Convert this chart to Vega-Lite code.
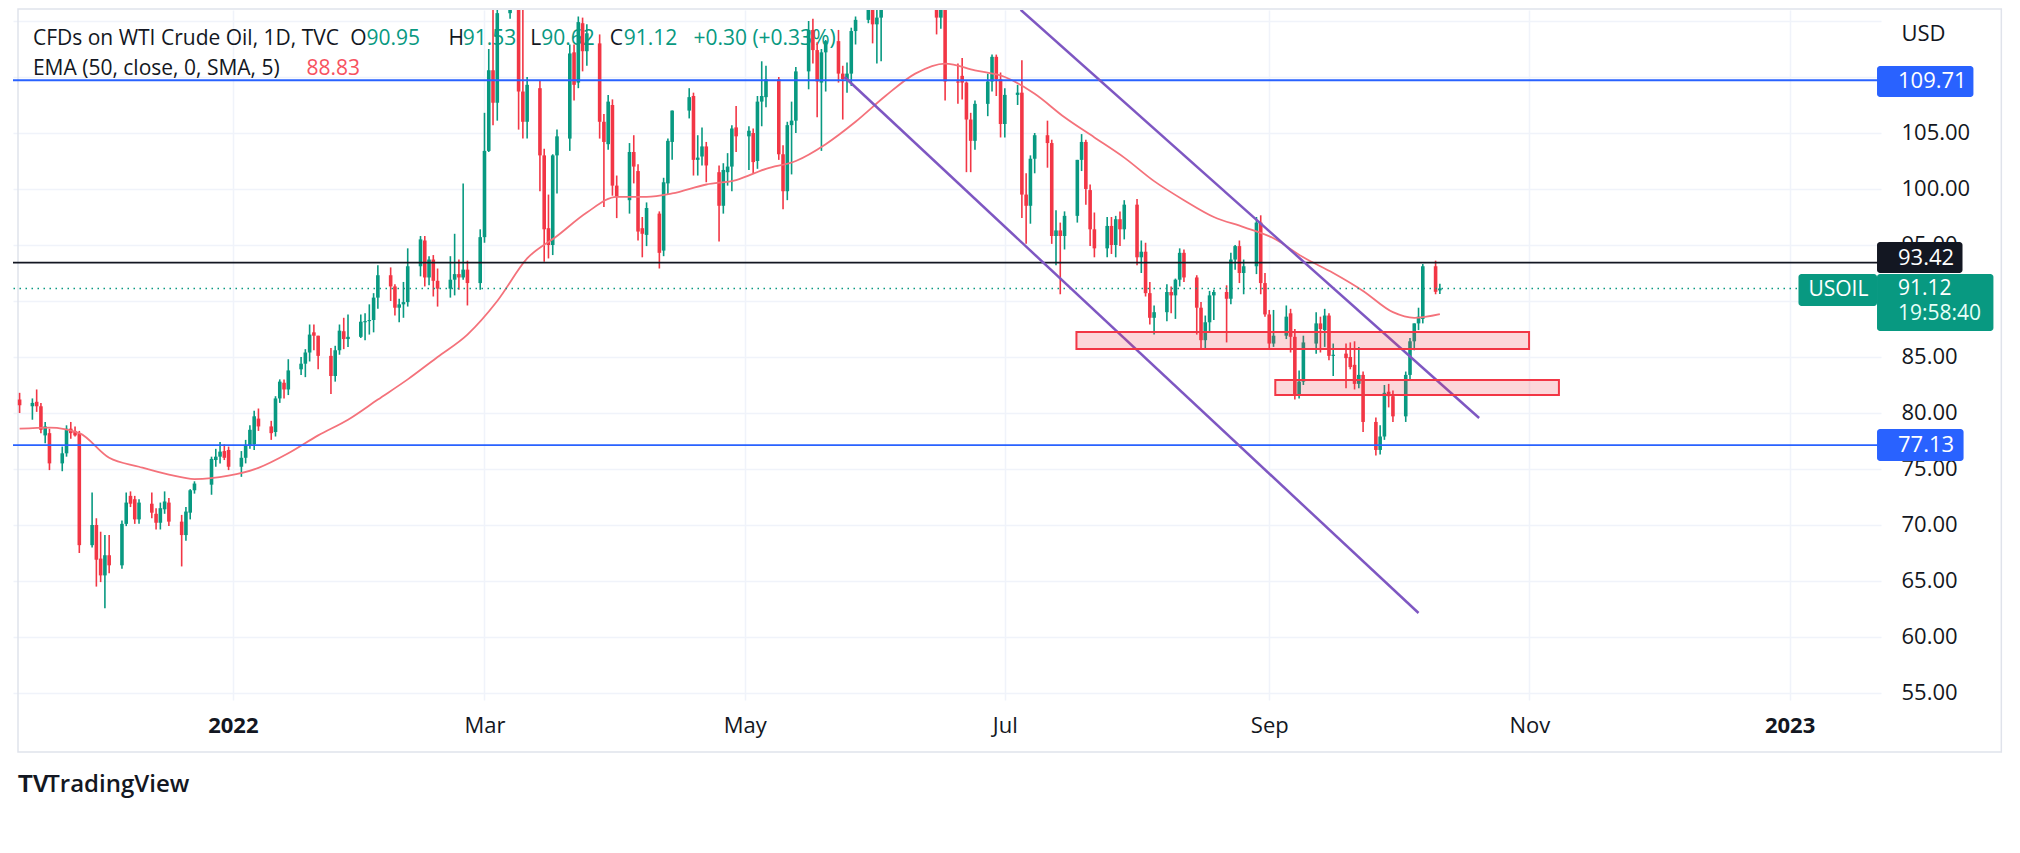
{
"$schema": "https://vega.github.io/schema/vega-lite/v6.json",
"width": 1868,
"height": 690,
"autosize": {"type": "none"},
"padding": {"left": 13, "top": 10, "right": 139, "bottom": 153},
"background": "#ffffff",
"config": {"font": "Open Sans", "view": {"stroke": null}},
"data": {"values": [{}]},
"datasets": {
"ohlc": [
{"d":"2021-11-12","o":81.2,"h":81.8,"l":80.0,"c":80.7},
{"d":"2021-11-15","o":80.6,"h":81.3,"l":79.4,"c":80.9},
{"d":"2021-11-16","o":81.0,"h":82.1,"l":80.1,"c":80.6},
{"d":"2021-11-17","o":80.6,"h":80.9,"l":78.2,"c":78.5},
{"d":"2021-11-18","o":78.0,"h":79.2,"l":77.3,"c":78.8},
{"d":"2021-11-19","o":78.2,"h":78.6,"l":74.9,"c":75.5},
{"d":"2021-11-22","o":75.5,"h":77.0,"l":74.8,"c":76.4},
{"d":"2021-11-23","o":76.4,"h":78.9,"l":76.1,"c":78.6},
{"d":"2021-11-24","o":78.6,"h":79.2,"l":77.7,"c":78.2},
{"d":"2021-11-25","o":78.4,"h":78.8,"l":77.9,"c":78.0},
{"d":"2021-11-26","o":78.2,"h":78.4,"l":67.5,"c":68.2},
{"d":"2021-11-29","o":68.2,"h":72.9,"l":68.0,"c":70.0},
{"d":"2021-11-30","o":70.0,"h":70.6,"l":64.5,"c":66.9},
{"d":"2021-12-01","o":67.0,"h":69.4,"l":64.9,"c":65.5},
{"d":"2021-12-02","o":65.5,"h":69.1,"l":62.56,"c":67.3},
{"d":"2021-12-03","o":67.3,"h":69.1,"l":65.7,"c":66.4},
{"d":"2021-12-06","o":66.4,"h":70.4,"l":66.1,"c":70.1},
{"d":"2021-12-07","o":70.1,"h":72.9,"l":69.9,"c":72.0},
{"d":"2021-12-08","o":72.6,"h":73.0,"l":71.6,"c":71.9},
{"d":"2021-12-09","o":72.3,"h":72.6,"l":70.1,"c":70.5},
{"d":"2021-12-10","o":70.5,"h":72.3,"l":70.1,"c":72.0},
{"d":"2021-12-13","o":71.9,"h":72.9,"l":70.6,"c":71.1},
{"d":"2021-12-14","o":71.0,"h":71.5,"l":69.6,"c":70.2},
{"d":"2021-12-15","o":70.2,"h":72.0,"l":69.6,"c":71.5},
{"d":"2021-12-16","o":71.4,"h":73.0,"l":71.0,"c":72.1},
{"d":"2021-12-17","o":72.0,"h":72.4,"l":69.9,"c":70.3},
{"d":"2021-12-20","o":70.3,"h":70.9,"l":66.3,"c":69.1},
{"d":"2021-12-21","o":69.1,"h":71.6,"l":68.6,"c":71.2},
{"d":"2021-12-22","o":71.1,"h":73.2,"l":70.5,"c":73.1},
{"d":"2021-12-23","o":73.1,"h":73.9,"l":72.8,"c":73.7},
{"d":"2021-12-27","o":73.6,"h":76.1,"l":72.7,"c":75.9},
{"d":"2021-12-28","o":75.8,"h":76.8,"l":75.2,"c":76.1},
{"d":"2021-12-29","o":76.1,"h":77.4,"l":75.5,"c":76.55},
{"d":"2021-12-30","o":76.6,"h":77.2,"l":75.8,"c":76.0},
{"d":"2021-12-31","o":76.7,"h":77.0,"l":74.9,"c":75.2},
{"d":"2022-01-03","o":75.2,"h":76.6,"l":74.3,"c":76.0},
{"d":"2022-01-04","o":76.0,"h":77.6,"l":75.5,"c":77.1},
{"d":"2022-01-05","o":77.1,"h":78.9,"l":76.8,"c":78.5},
{"d":"2022-01-06","o":77.2,"h":80.2,"l":76.7,"c":79.7},
{"d":"2022-01-07","o":79.5,"h":80.4,"l":78.4,"c":78.8},
{"d":"2022-01-10","o":78.8,"h":79.3,"l":77.6,"c":78.2},
{"d":"2022-01-11","o":78.3,"h":81.5,"l":77.9,"c":81.3},
{"d":"2022-01-12","o":81.3,"h":83.0,"l":80.9,"c":82.8},
{"d":"2022-01-13","o":82.7,"h":83.0,"l":81.3,"c":82.1},
{"d":"2022-01-14","o":82.1,"h":84.8,"l":81.6,"c":83.8},
{"d":"2022-01-17","o":83.9,"h":85.0,"l":83.4,"c":84.4},
{"d":"2022-01-18","o":84.4,"h":85.7,"l":83.2,"c":85.4},
{"d":"2022-01-19","o":85.4,"h":87.9,"l":84.6,"c":87.0},
{"d":"2022-01-20","o":87.2,"h":87.9,"l":85.6,"c":86.9},
{"d":"2022-01-21","o":86.9,"h":86.9,"l":83.9,"c":85.1},
{"d":"2022-01-24","o":85.1,"h":85.8,"l":81.7,"c":83.3},
{"d":"2022-01-25","o":83.3,"h":86.0,"l":82.8,"c":85.6},
{"d":"2022-01-26","o":85.6,"h":87.9,"l":85.2,"c":87.35},
{"d":"2022-01-27","o":87.3,"h":88.5,"l":85.7,"c":86.6},
{"d":"2022-01-28","o":86.6,"h":88.8,"l":85.9,"c":86.8},
{"d":"2022-01-31","o":86.8,"h":88.8,"l":86.7,"c":88.15},
{"d":"2022-02-01","o":88.1,"h":88.9,"l":86.5,"c":88.2},
{"d":"2022-02-02","o":88.2,"h":89.7,"l":87.0,"c":88.3},
{"d":"2022-02-03","o":88.3,"h":90.7,"l":87.2,"c":90.3},
{"d":"2022-02-04","o":90.3,"h":93.2,"l":89.3,"c":92.3},
{"d":"2022-02-07","o":92.3,"h":93.0,"l":90.0,"c":91.3},
{"d":"2022-02-08","o":91.3,"h":91.5,"l":88.7,"c":89.4},
{"d":"2022-02-09","o":89.4,"h":90.2,"l":88.1,"c":89.7},
{"d":"2022-02-10","o":89.7,"h":91.7,"l":88.5,"c":89.9},
{"d":"2022-02-11","o":89.9,"h":94.7,"l":89.5,"c":93.1},
{"d":"2022-02-14","o":93.1,"h":95.8,"l":92.2,"c":95.5},
{"d":"2022-02-15","o":95.4,"h":95.8,"l":91.3,"c":92.1},
{"d":"2022-02-16","o":92.1,"h":94.0,"l":91.4,"c":93.7},
{"d":"2022-02-17","o":93.7,"h":94.1,"l":90.4,"c":91.8},
{"d":"2022-02-18","o":91.8,"h":92.9,"l":89.5,"c":91.1},
{"d":"2022-02-21","o":91.1,"h":94.0,"l":90.3,"c":91.9},
{"d":"2022-02-22","o":91.9,"h":96.0,"l":90.5,"c":92.4},
{"d":"2022-02-23","o":92.4,"h":93.7,"l":91.0,"c":92.1},
{"d":"2022-02-24","o":92.1,"h":100.5,"l":91.9,"c":92.8},
{"d":"2022-02-25","o":92.8,"h":93.6,"l":89.6,"c":91.6},
{"d":"2022-02-28","o":91.6,"h":96.4,"l":91.0,"c":95.7},
{"d":"2022-03-01","o":95.7,"h":106.8,"l":95.2,"c":103.4},
{"d":"2022-03-02","o":103.4,"h":112.5,"l":103.3,"c":110.6},
{"d":"2022-03-03","o":110.6,"h":116.6,"l":105.7,"c":107.7},
{"d":"2022-03-04","o":107.7,"h":116.0,"l":106.1,"c":115.7},
{"d":"2022-03-07","o":115.7,"h":130.5,"l":115.2,"c":119.4},
{"d":"2022-03-08","o":119.4,"h":129.4,"l":117.7,"c":123.7},
{"d":"2022-03-09","o":123.7,"h":124.0,"l":105.3,"c":108.7},
{"d":"2022-03-10","o":108.7,"h":116.5,"l":104.5,"c":106.0},
{"d":"2022-03-11","o":106.0,"h":110.0,"l":104.5,"c":109.3},
{"d":"2022-03-14","o":109.0,"h":109.7,"l":99.8,"c":103.0},
{"d":"2022-03-15","o":103.0,"h":103.6,"l":93.5,"c":96.4},
{"d":"2022-03-16","o":96.5,"h":99.5,"l":93.8,"c":95.0},
{"d":"2022-03-17","o":95.0,"h":103.1,"l":94.1,"c":103.0},
{"d":"2022-03-18","o":103.0,"h":105.3,"l":99.6,"c":104.7},
{"d":"2022-03-21","o":104.5,"h":112.9,"l":103.4,"c":112.1},
{"d":"2022-03-22","o":112.2,"h":112.9,"l":107.9,"c":109.3},
{"d":"2022-03-23","o":109.5,"h":115.4,"l":109.0,"c":114.9},
{"d":"2022-03-24","o":114.8,"h":115.3,"l":110.5,"c":112.3},
{"d":"2022-03-25","o":112.3,"h":114.7,"l":111.0,"c":113.9},
{"d":"2022-03-28","o":113.0,"h":113.8,"l":104.5,"c":106.0},
{"d":"2022-03-29","o":106.0,"h":106.7,"l":98.4,"c":104.2},
{"d":"2022-03-30","o":104.0,"h":108.4,"l":103.5,"c":107.8},
{"d":"2022-03-31","o":107.5,"h":108.0,"l":99.4,"c":100.3},
{"d":"2022-04-01","o":100.3,"h":101.2,"l":97.4,"c":99.3},
{"d":"2022-04-04","o":99.0,"h":104.1,"l":97.8,"c":103.3},
{"d":"2022-04-05","o":103.3,"h":104.8,"l":100.5,"c":102.0},
{"d":"2022-04-06","o":101.6,"h":102.2,"l":95.4,"c":96.2},
{"d":"2022-04-07","o":96.5,"h":97.5,"l":93.9,"c":96.0},
{"d":"2022-04-08","o":95.9,"h":98.8,"l":94.9,"c":98.3},
{"d":"2022-04-11","o":97.8,"h":98.0,"l":92.9,"c":94.3},
{"d":"2022-04-12","o":94.5,"h":101.0,"l":94.0,"c":100.6},
{"d":"2022-04-13","o":100.5,"h":104.5,"l":99.5,"c":104.3},
{"d":"2022-04-14","o":104.2,"h":107.0,"l":102.6,"c":107.0},
{"d":"2022-04-18","o":107.0,"h":109.0,"l":106.3,"c":108.2},
{"d":"2022-04-19","o":108.3,"h":108.6,"l":101.2,"c":102.6},
{"d":"2022-04-20","o":102.6,"h":104.8,"l":101.2,"c":102.8},
{"d":"2022-04-21","o":102.9,"h":105.5,"l":102.1,"c":103.8},
{"d":"2022-04-22","o":103.8,"h":104.2,"l":100.6,"c":102.1},
{"d":"2022-04-25","o":101.5,"h":102.1,"l":95.3,"c":98.5},
{"d":"2022-04-26","o":98.5,"h":102.3,"l":97.8,"c":101.7},
{"d":"2022-04-27","o":101.5,"h":103.2,"l":100.3,"c":102.0},
{"d":"2022-04-28","o":102.0,"h":105.7,"l":99.8,"c":105.4},
{"d":"2022-04-29","o":105.5,"h":107.4,"l":103.3,"c":104.7},
{"d":"2022-05-02","o":104.7,"h":105.6,"l":101.7,"c":105.2},
{"d":"2022-05-03","o":105.0,"h":105.4,"l":101.4,"c":102.4},
{"d":"2022-05-04","o":102.5,"h":108.3,"l":101.8,"c":107.8},
{"d":"2022-05-05","o":107.8,"h":111.4,"l":105.6,"c":108.3},
{"d":"2022-05-06","o":108.2,"h":111.0,"l":107.3,"c":109.8},
{"d":"2022-05-09","o":109.8,"h":110.0,"l":102.6,"c":103.1},
{"d":"2022-05-10","o":103.1,"h":103.9,"l":98.2,"c":99.8},
{"d":"2022-05-11","o":99.8,"h":106.0,"l":99.0,"c":105.7},
{"d":"2022-05-12","o":105.7,"h":107.8,"l":101.3,"c":106.1},
{"d":"2022-05-13","o":106.1,"h":110.9,"l":105.0,"c":110.5},
{"d":"2022-05-16","o":110.5,"h":115.0,"l":108.9,"c":114.2},
{"d":"2022-05-17","o":114.2,"h":115.2,"l":111.2,"c":112.4},
{"d":"2022-05-18","o":112.4,"h":113.1,"l":106.4,"c":109.6},
{"d":"2022-05-19","o":109.5,"h":112.5,"l":103.4,"c":112.2},
{"d":"2022-05-20","o":112.2,"h":113.3,"l":108.7,"c":113.2},
{"d":"2022-05-23","o":113.2,"h":114.2,"l":109.5,"c":110.3},
{"d":"2022-05-24","o":110.3,"h":111.0,"l":106.2,"c":109.8},
{"d":"2022-05-25","o":109.8,"h":111.3,"l":108.6,"c":110.3},
{"d":"2022-05-26","o":110.3,"h":114.4,"l":109.2,"c":114.1},
{"d":"2022-05-27","o":114.1,"h":115.4,"l":112.9,"c":115.1},
{"d":"2022-05-30","o":115.1,"h":118.0,"l":114.8,"c":117.0},
{"d":"2022-05-31","o":117.0,"h":119.98,"l":113.0,"c":114.7},
{"d":"2022-06-01","o":114.7,"h":117.1,"l":111.2,"c":115.3},
{"d":"2022-06-02","o":115.3,"h":117.1,"l":111.4,"c":116.9},
{"d":"2022-06-03","o":116.9,"h":120.0,"l":116.0,"c":118.9},
{"d":"2022-06-06","o":119.0,"h":120.0,"l":117.1,"c":118.5},
{"d":"2022-06-07","o":118.5,"h":120.0,"l":116.5,"c":119.4},
{"d":"2022-06-08","o":119.4,"h":123.2,"l":118.9,"c":122.1},
{"d":"2022-06-09","o":122.1,"h":123.2,"l":119.8,"c":121.5},
{"d":"2022-06-10","o":121.5,"h":121.9,"l":118.8,"c":120.7},
{"d":"2022-06-13","o":120.7,"h":122.3,"l":118.5,"c":120.9},
{"d":"2022-06-14","o":120.9,"h":123.7,"l":117.4,"c":118.9},
{"d":"2022-06-15","o":118.9,"h":119.7,"l":113.8,"c":115.3},
{"d":"2022-06-16","o":115.3,"h":118.5,"l":114.3,"c":117.6},
{"d":"2022-06-17","o":117.6,"h":118.2,"l":107.9,"c":109.6},
{"d":"2022-06-20","o":109.6,"h":111.2,"l":107.6,"c":109.5},
{"d":"2022-06-21","o":110.1,"h":111.7,"l":108.0,"c":109.5},
{"d":"2022-06-22","o":109.5,"h":109.6,"l":101.5,"c":106.2},
{"d":"2022-06-23","o":106.2,"h":106.8,"l":101.5,"c":104.3},
{"d":"2022-06-24","o":104.3,"h":107.9,"l":103.5,"c":107.6},
{"d":"2022-06-27","o":107.6,"h":110.3,"l":106.5,"c":109.6},
{"d":"2022-06-28","o":109.6,"h":112.0,"l":108.7,"c":111.8},
{"d":"2022-06-29","o":111.8,"h":112.0,"l":108.3,"c":109.8},
{"d":"2022-06-30","o":109.8,"h":110.4,"l":104.6,"c":105.8},
{"d":"2022-07-01","o":105.8,"h":109.0,"l":104.6,"c":108.4},
{"d":"2022-07-04","o":108.4,"h":109.3,"l":107.5,"c":108.6},
{"d":"2022-07-05","o":108.6,"h":111.5,"l":97.4,"c":99.5},
{"d":"2022-07-06","o":99.5,"h":101.4,"l":95.1,"c":98.5},
{"d":"2022-07-07","o":98.5,"h":103.0,"l":96.9,"c":102.7},
{"d":"2022-07-08","o":102.7,"h":105.0,"l":101.4,"c":104.8},
{"d":"2022-07-11","o":104.8,"h":106.1,"l":101.9,"c":104.1},
{"d":"2022-07-12","o":104.1,"h":104.4,"l":95.1,"c":95.8},
{"d":"2022-07-13","o":95.8,"h":98.1,"l":93.2,"c":96.3},
{"d":"2022-07-14","o":96.3,"h":97.0,"l":90.6,"c":95.8},
{"d":"2022-07-15","o":95.8,"h":98.0,"l":94.6,"c":97.6},
{"d":"2022-07-18","o":97.6,"h":102.6,"l":97.0,"c":102.6},
{"d":"2022-07-19","o":102.6,"h":104.9,"l":101.6,"c":104.2},
{"d":"2022-07-20","o":104.2,"h":104.4,"l":98.6,"c":100.0},
{"d":"2022-07-21","o":99.9,"h":100.4,"l":94.9,"c":96.4},
{"d":"2022-07-22","o":96.4,"h":97.9,"l":93.9,"c":94.7},
{"d":"2022-07-25","o":94.7,"h":97.5,"l":93.9,"c":96.7},
{"d":"2022-07-26","o":96.7,"h":97.5,"l":94.2,"c":95.0},
{"d":"2022-07-27","o":95.0,"h":97.6,"l":93.9,"c":97.3},
{"d":"2022-07-28","o":97.3,"h":98.0,"l":94.9,"c":96.4},
{"d":"2022-07-29","o":96.4,"h":99.0,"l":95.5,"c":98.6},
{"d":"2022-08-01","o":98.6,"h":99.1,"l":93.2,"c":93.9},
{"d":"2022-08-02","o":93.9,"h":95.4,"l":92.5,"c":94.4},
{"d":"2022-08-03","o":94.4,"h":95.2,"l":90.4,"c":90.7},
{"d":"2022-08-04","o":90.7,"h":91.7,"l":87.9,"c":88.5},
{"d":"2022-08-05","o":88.5,"h":89.6,"l":87.0,"c":89.0},
{"d":"2022-08-08","o":89.0,"h":91.5,"l":88.2,"c":90.8},
{"d":"2022-08-09","o":90.8,"h":91.3,"l":88.9,"c":90.5},
{"d":"2022-08-10","o":90.5,"h":92.0,"l":88.4,"c":91.9},
{"d":"2022-08-11","o":91.9,"h":94.7,"l":91.3,"c":94.3},
{"d":"2022-08-12","o":94.3,"h":94.6,"l":91.7,"c":92.1},
{"d":"2022-08-15","o":92.1,"h":92.3,"l":87.0,"c":89.4},
{"d":"2022-08-16","o":89.4,"h":89.9,"l":85.7,"c":86.5},
{"d":"2022-08-17","o":86.5,"h":88.7,"l":85.7,"c":88.1},
{"d":"2022-08-18","o":88.1,"h":90.9,"l":87.3,"c":90.5},
{"d":"2022-08-19","o":90.5,"h":91.0,"l":88.3,"c":90.8},
{"d":"2022-08-22","o":90.8,"h":91.4,"l":86.3,"c":90.2},
{"d":"2022-08-23","o":90.2,"h":94.3,"l":89.7,"c":93.7},
{"d":"2022-08-24","o":93.7,"h":95.0,"l":92.8,"c":94.9},
{"d":"2022-08-25","o":94.9,"h":95.4,"l":91.6,"c":92.5},
{"d":"2022-08-26","o":92.5,"h":93.7,"l":90.6,"c":93.1},
{"d":"2022-08-29","o":93.1,"h":97.5,"l":92.4,"c":97.0},
{"d":"2022-08-30","o":97.0,"h":97.65,"l":90.6,"c":91.6},
{"d":"2022-08-31","o":91.6,"h":92.5,"l":88.6,"c":88.8},
{"d":"2022-09-01","o":88.8,"h":89.2,"l":85.7,"c":86.2},
{"d":"2022-09-02","o":86.2,"h":89.2,"l":85.9,"c":86.9},
{"d":"2022-09-05","o":86.9,"h":89.6,"l":86.6,"c":88.6},
{"d":"2022-09-06","o":88.9,"h":89.3,"l":85.4,"c":86.8},
{"d":"2022-09-07","o":86.8,"h":87.5,"l":81.2,"c":81.6},
{"d":"2022-09-08","o":81.6,"h":83.8,"l":81.3,"c":82.8},
{"d":"2022-09-09","o":82.8,"h":86.9,"l":82.5,"c":86.3},
{"d":"2022-09-12","o":86.2,"h":89.0,"l":85.3,"c":88.0},
{"d":"2022-09-13","o":88.0,"h":88.6,"l":85.4,"c":87.5},
{"d":"2022-09-14","o":87.4,"h":89.3,"l":85.9,"c":88.7},
{"d":"2022-09-15","o":88.7,"h":88.9,"l":84.7,"c":85.1},
{"d":"2022-09-16","o":85.1,"h":86.2,"l":83.3,"c":85.2},
{"d":"2022-09-19","o":85.3,"h":86.2,"l":82.2,"c":84.9},
{"d":"2022-09-20","o":85.0,"h":86.3,"l":83.9,"c":84.1},
{"d":"2022-09-21","o":84.3,"h":86.4,"l":82.1,"c":82.6},
{"d":"2022-09-22","o":82.6,"h":85.9,"l":82.2,"c":83.4},
{"d":"2022-09-23","o":83.4,"h":83.7,"l":78.3,"c":79.2},
{"d":"2022-09-26","o":79.2,"h":79.6,"l":76.2,"c":76.7},
{"d":"2022-09-27","o":76.7,"h":78.9,"l":76.3,"c":77.9},
{"d":"2022-09-28","o":77.9,"h":82.5,"l":77.6,"c":81.8},
{"d":"2022-09-29","o":81.9,"h":82.6,"l":80.5,"c":81.5},
{"d":"2022-09-30","o":81.5,"h":82.0,"l":79.2,"c":79.7},
{"d":"2022-10-03","o":79.7,"h":83.7,"l":79.2,"c":83.4},
{"d":"2022-10-04","o":83.4,"h":86.7,"l":83.0,"c":86.4},
{"d":"2022-10-05","o":86.4,"h":88.0,"l":85.6,"c":88.0},
{"d":"2022-10-06","o":88.0,"h":89.4,"l":87.4,"c":88.6},
{"d":"2022-10-07","o":88.4,"h":93.3,"l":88.0,"c":93.1},
{"d":"2022-10-10","o":93.1,"h":93.6,"l":90.6,"c":90.82},
{"d":"2022-10-11","o":90.95,"h":91.53,"l":90.62,"c":91.12}
],
"ema": [
{"d":"2021-11-12","v":78.6},{"d":"2021-11-19","v":78.7},{"d":"2021-11-26","v":78.2},{"d":"2021-12-03","v":76.0},
{"d":"2021-12-10","v":75.2},{"d":"2021-12-17","v":74.5},{"d":"2021-12-23","v":74.1},{"d":"2021-12-31","v":74.4},
{"d":"2022-01-07","v":75.1},{"d":"2022-01-14","v":76.4},{"d":"2022-01-21","v":78.0},{"d":"2022-01-28","v":79.4},
{"d":"2022-02-04","v":81.2},{"d":"2022-02-11","v":83.0},{"d":"2022-02-18","v":85.0},{"d":"2022-02-25","v":87.0},
{"d":"2022-03-04","v":90.0},{"d":"2022-03-11","v":93.8},{"d":"2022-03-18","v":95.8},{"d":"2022-03-25","v":97.9},
{"d":"2022-04-01","v":99.3},{"d":"2022-04-08","v":99.3},{"d":"2022-04-14","v":99.6},{"d":"2022-04-22","v":100.4},
{"d":"2022-04-29","v":100.8},{"d":"2022-05-06","v":101.8},{"d":"2022-05-13","v":102.5},{"d":"2022-05-20","v":104.0},
{"d":"2022-05-27","v":106.0},{"d":"2022-06-03","v":108.3},{"d":"2022-06-10","v":110.3},{"d":"2022-06-17","v":111.2},
{"d":"2022-06-24","v":110.6},{"d":"2022-07-01","v":110.0},{"d":"2022-07-08","v":108.5},{"d":"2022-07-15","v":106.4},
{"d":"2022-07-22","v":104.6},{"d":"2022-07-29","v":102.8},{"d":"2022-08-05","v":100.7},{"d":"2022-08-12","v":99.0},
{"d":"2022-08-19","v":97.5},{"d":"2022-08-26","v":96.6},{"d":"2022-09-02","v":95.6},{"d":"2022-09-09","v":93.9},
{"d":"2022-09-16","v":92.5},{"d":"2022-09-23","v":90.9},{"d":"2022-09-30","v":89.0},{"d":"2022-10-05","v":88.5},
{"d":"2022-10-11","v":88.83}
],
"levels": [
{"kind":"range","price":109.71},
{"kind":"range","price":77.13},
{"kind":"pivot","price":93.42},
{"kind":"last","price":91.12}
]
},
"layer": [
{
"mark": {"type": "rect", "fill": null, "stroke": "#e0e3eb", "strokeWidth": 1.5},
"encoding": {
"x": {"datum": {"year":2021,"month":11,"date":11,"hours":15,"utc":true}, "type": "temporal"},
"x2": {"datum": {"year":2023,"month":2,"date":19,"hours":15,"minutes":30,"utc":true}},
"y": {"datum": 116.07, "type": "quantitative"},
"y2": {"datum": 49.73}
}
},
{
"mark": {"type": "text", "text": "CFDs on WTI Crude Oil, 1D, TVC", "fontSize": 21, "color": "#131722", "align": "left", "baseline": "alphabetic"},
"encoding": {"x": {"datum": {"year":2021,"month":11,"date":15,"hours":3,"utc":true}, "type": "temporal"}, "y": {"datum": 112.86, "type": "quantitative"}}
},
{
"mark": {"type": "text", "text": "O", "fontSize": 21, "color": "#131722", "align": "left", "baseline": "alphabetic"},
"encoding": {"x": {"datum": {"year":2022,"month":1,"date":28,"hours":12,"utc":true}, "type": "temporal"}, "y": {"datum": 112.86, "type": "quantitative"}}
},
{
"mark": {"type": "text", "text": "90.95", "fontSize": 21, "color": "#089981", "align": "left", "baseline": "alphabetic"},
"encoding": {"x": {"datum": {"year":2022,"month":2,"date":1,"hours":8,"utc":true}, "type": "temporal"}, "y": {"datum": 112.86, "type": "quantitative"}}
},
{
"mark": {"type": "text", "text": "H", "fontSize": 21, "color": "#131722", "align": "left", "baseline": "alphabetic"},
"encoding": {"x": {"datum": {"year":2022,"month":2,"date":20,"hours":14,"utc":true}, "type": "temporal"}, "y": {"datum": 112.86, "type": "quantitative"}}
},
{
"mark": {"type": "text", "text": "91.53", "fontSize": 21, "color": "#089981", "align": "left", "baseline": "alphabetic"},
"encoding": {"x": {"datum": {"year":2022,"month":2,"date":23,"hours":21,"utc":true}, "type": "temporal"}, "y": {"datum": 112.86, "type": "quantitative"}}
},
{
"mark": {"type": "text", "text": "L", "fontSize": 21, "color": "#131722", "align": "left", "baseline": "alphabetic"},
"encoding": {"x": {"datum": {"year":2022,"month":3,"date":11,"hours":17,"minutes":30,"utc":true}, "type": "temporal"}, "y": {"datum": 112.86, "type": "quantitative"}}
},
{
"mark": {"type": "text", "text": "90.62", "fontSize": 21, "color": "#089981", "align": "left", "baseline": "alphabetic"},
"encoding": {"x": {"datum": {"year":2022,"month":3,"date":14,"hours":7,"utc":true}, "type": "temporal"}, "y": {"datum": 112.86, "type": "quantitative"}}
},
{
"mark": {"type": "text", "text": "C", "fontSize": 21, "color": "#131722", "align": "left", "baseline": "alphabetic"},
"encoding": {"x": {"datum": {"year":2022,"month":3,"date":30,"hours":9,"utc":true}, "type": "temporal"}, "y": {"datum": 112.86, "type": "quantitative"}}
},
{
"mark": {"type": "text", "text": "91.12", "fontSize": 21, "color": "#089981", "align": "left", "baseline": "alphabetic"},
"encoding": {"x": {"datum": {"year":2022,"month":4,"date":2,"hours":15,"minutes":30,"utc":true}, "type": "temporal"}, "y": {"datum": 112.86, "type": "quantitative"}}
},
{
"mark": {"type": "text", "text": "+0.30 (+0.33%)", "fontSize": 21, "color": "#089981", "align": "left", "baseline": "alphabetic"},
"encoding": {"x": {"datum": {"year":2022,"month":4,"date":18,"hours":23,"minutes":30,"utc":true}, "type": "temporal"}, "y": {"datum": 112.86, "type": "quantitative"}}
},
{
"mark": {"type": "text", "text": "EMA (50, close, 0, SMA, 5)", "fontSize": 21, "color": "#131722", "align": "left", "baseline": "alphabetic"},
"encoding": {"x": {"datum": {"year":2021,"month":11,"date":15,"hours":3,"utc":true}, "type": "temporal"}, "y": {"datum": 110.18, "type": "quantitative"}}
},
{
"mark": {"type": "text", "text": "88.83", "fontSize": 21, "color": "#f7525f", "align": "left", "baseline": "alphabetic"},
"encoding": {"x": {"datum": {"year":2022,"month":1,"date":18,"hours":6,"utc":true}, "type": "temporal"}, "y": {"datum": 110.18, "type": "quantitative"}}
},
{
"data": {"name": "ohlc"},
"mark": {"type": "rule", "strokeWidth": 1.6, "clip": true},
"encoding": {
"x": {"field": "d", "type": "temporal",
"scale": {"type": "utc", "domain": [{"year":2021,"month":11,"date":11,"hours":15,"utc":true}, {"year":2023,"month":1,"date":21,"hours":6,"minutes":15,"utc":true}]},
"axis": {"title": null,
"values": [{"year":2022,"month":1,"date":1,"utc":true},{"year":2022,"month":3,"date":1,"utc":true},{"year":2022,"month":5,"date":1,"utc":true},{"year":2022,"month":7,"date":1,"utc":true},{"year":2022,"month":9,"date":1,"utc":true},{"year":2022,"month":11,"date":1,"utc":true},{"year":2023,"month":1,"date":1,"utc":true}],
"labelExpr": "utcmonth(datum.value) === 0 ? utcFormat(datum.value, '%Y') : utcFormat(datum.value, '%b')",
"labelFontWeight": {"condition": {"test": "utcmonth(datum.value) === 0", "value": "bold"}, "value": "normal"},
"labelFontSize": 22, "labelColor": "#131722", "labelPadding": 25, "labelBaseline": "middle",
"ticks": false, "tickSize": 0, "domain": false, "grid": true, "gridColor": "#f0f3fa", "gridWidth": 1.5,
"labelFlush": false, "labelOverlap": false}
},
"y": {"field": "l", "type": "quantitative",
"scale": {"domain": [54.375, 115.98], "nice": false, "zero": false},
"axis": {"orient": "right", "title": "USD", "titleAngle": 0, "titleAlign": "left", "titleBaseline": "middle",
"titleX": 20, "titleY": 23, "titleFontSize": 22, "titleFontWeight": "normal", "titleColor": "#131722",
"values": [55,60,65,70,75,80,85,90,95,100,105,110,115],
"labelExpr": "datum.value == 90 || datum.value >= 110 ? '' : format(datum.value, '.2f')",
"labelFontSize": 22, "labelColor": "#131722", "labelPadding": 20, "labelAlign": "left", "labelBaseline": "middle",
"ticks": false, "tickSize": 0, "domain": false, "grid": true, "gridColor": "#f0f3fa", "gridWidth": 1.5,
"labelOverlap": false, "labelBound": false, "labelFlush": false}
},
"y2": {"field": "h"},
"color": {"condition": {"test": "datum.c >= datum.o", "value": "#089981"}, "value": "#f23645"}
}
},
{
"data": {"name": "ohlc"},
"mark": {"type": "bar", "width": 3.6, "clip": true},
"encoding": {
"x": {"field": "d", "type": "temporal"},
"y": {"field": "o", "type": "quantitative"},
"y2": {"field": "c"},
"color": {"condition": {"test": "datum.c >= datum.o", "value": "#089981"}, "value": "#f23645"}
}
},
{
"data": {"name": "ema"},
"mark": {"type": "line", "color": "#f4727b", "strokeWidth": 1.8, "interpolate": "monotone", "clip": true},
"encoding": {"x": {"field": "d", "type": "temporal"}, "y": {"field": "v", "type": "quantitative"}}
},
{
"data": {"name": "levels"},
"transform": [{"filter": "datum.kind == 'range'"}],
"mark": {"type": "rule", "color": "#2962ff", "strokeWidth": 1.8},
"encoding": {"y": {"field": "price", "type": "quantitative"}}
},
{
"data": {"name": "levels"},
"transform": [{"filter": "datum.kind == 'pivot'"}],
"mark": {"type": "rule", "color": "#131722", "strokeWidth": 1.8},
"encoding": {"y": {"field": "price", "type": "quantitative"}}
},
{
"data": {"name": "levels"},
"transform": [{"filter": "datum.kind == 'last'"}],
"mark": {"type": "rule", "color": "#089981", "strokeWidth": 1.6, "strokeDash": [1.5, 4.5]},
"encoding": {"y": {"field": "price", "type": "quantitative"}}
},
{
"data": {"values": [
{"line": "upper", "d": "2022-07-04T17:00:00Z", "p": 116.0},
{"line": "upper", "d": "2022-10-20T05:00:00Z", "p": 79.55},
{"line": "lower", "d": "2022-05-24T10:00:00Z", "p": 110.0},
{"line": "lower", "d": "2022-10-06T00:00:00Z", "p": 62.14}
], "format": {"parse": {"d": "date"}}},
"mark": {"type": "line", "color": "#7e57c2", "strokeWidth": 2.5, "clip": true},
"encoding": {"x": {"field": "d", "type": "temporal"}, "y": {"field": "p", "type": "quantitative"}, "detail": {"field": "line"}}
},
{
"data": {"values": [
{"d1": "2022-07-17T19:00:00Z", "d2": "2022-10-31T22:00:00Z", "p1": 85.71, "p2": 87.23},
{"d1": "2022-09-02T10:00:00Z", "d2": "2022-11-07T22:00:00Z", "p1": 81.61, "p2": 82.95}
], "format": {"parse": {"d1": "date", "d2": "date"}}},
"mark": {"type": "rect", "fill": "#f23645", "fillOpacity": 0.2, "stroke": "#f23645", "strokeWidth": 2, "clip": true},
"encoding": {"x": {"field": "d1", "type": "temporal"}, "x2": {"field": "d2"}, "y": {"field": "p1", "type": "quantitative"}, "y2": {"field": "p2"}}
},
{
"mark": {"type": "rect", "fill": "#2962ff", "cornerRadius": 3},
"encoding": {"x": {"datum": {"year":2023,"month":1,"date":21,"hours":12,"utc":true}, "type": "temporal"}, "x2": {"datum": {"year":2023,"month":2,"date":13,"hours":2,"minutes":30,"utc":true}}, "y": {"datum": 110.98, "type": "quantitative"}, "y2": {"datum": 108.21}}
},
{
"mark": {"type": "rect", "fill": "#2962ff", "cornerRadius": 3},
"encoding": {"x": {"datum": {"year":2023,"month":1,"date":21,"hours":12,"utc":true}, "type": "temporal"}, "x2": {"datum": {"year":2023,"month":2,"date":10,"hours":19,"utc":true}}, "y": {"datum": 78.57, "type": "quantitative"}, "y2": {"datum": 75.71}}
},
{
"mark": {"type": "rect", "fill": "#131722", "cornerRadius": 3},
"encoding": {"x": {"datum": {"year":2023,"month":1,"date":21,"hours":12,"utc":true}, "type": "temporal"}, "x2": {"datum": {"year":2023,"month":2,"date":10,"hours":13,"utc":true}}, "y": {"datum": 95.27, "type": "quantitative"}, "y2": {"datum": 92.5}}
},
{
"mark": {"type": "rect", "fill": "#089981", "cornerRadius": 3},
"encoding": {"x": {"datum": {"year":2023,"month":1,"date":21,"hours":12,"utc":true}, "type": "temporal"}, "x2": {"datum": {"year":2023,"month":2,"date":17,"hours":19,"utc":true}}, "y": {"datum": 92.41, "type": "quantitative"}, "y2": {"datum": 87.32}}
},
{
"mark": {"type": "rect", "fill": "#089981", "cornerRadius": 3},
"encoding": {"x": {"datum": {"year":2023,"month":1,"date":3,"hours":2,"utc":true}, "type": "temporal"}, "x2": {"datum": {"year":2023,"month":1,"date":21,"hours":12,"utc":true}}, "y": {"datum": 92.41, "type": "quantitative"}, "y2": {"datum": 89.55}}
},
{
"mark": {"type": "text", "text": "109.71", "fontSize": 22, "color": "#ffffff", "align": "left", "baseline": "middle"},
"encoding": {"x": {"datum": {"year":2023,"month":1,"date":26,"hours":10,"utc":true}, "type": "temporal"}, "y": {"datum": 109.6, "type": "quantitative"}}
},
{
"mark": {"type": "text", "text": "77.13", "fontSize": 22, "color": "#ffffff", "align": "left", "baseline": "middle"},
"encoding": {"x": {"datum": {"year":2023,"month":1,"date":26,"hours":10,"utc":true}, "type": "temporal"}, "y": {"datum": 77.14, "type": "quantitative"}}
},
{
"mark": {"type": "text", "text": "93.42", "fontSize": 22, "color": "#ffffff", "align": "left", "baseline": "middle"},
"encoding": {"x": {"datum": {"year":2023,"month":1,"date":26,"hours":10,"utc":true}, "type": "temporal"}, "y": {"datum": 93.88, "type": "quantitative"}}
},
{
"mark": {"type": "text", "text": "91.12", "fontSize": 21, "color": "#ffffff", "align": "left", "baseline": "middle"},
"encoding": {"x": {"datum": {"year":2023,"month":1,"date":26,"hours":10,"utc":true}, "type": "temporal"}, "y": {"datum": 91.07, "type": "quantitative"}}
},
{
"mark": {"type": "text", "text": "19:58:40", "fontSize": 21, "color": "#e6fff8", "align": "left", "baseline": "middle"},
"encoding": {"x": {"datum": {"year":2023,"month":1,"date":26,"hours":10,"utc":true}, "type": "temporal"}, "y": {"datum": 88.84, "type": "quantitative"}}
},
{
"mark": {"type": "text", "text": "USOIL", "fontSize": 21, "color": "#ffffff", "align": "left", "baseline": "middle"},
"encoding": {"x": {"datum": {"year":2023,"month":1,"date":5,"hours":10,"utc":true}, "type": "temporal"}, "y": {"datum": 90.98, "type": "quantitative"}}
},
{
"mark": {"type": "text", "text": "TV", "font": "Liberation Sans", "fontWeight": 900, "fontSize": 24, "letterSpacing": -4, "color": "#131722", "align": "left", "baseline": "alphabetic"},
"encoding": {"x": {"datum": {"year":2021,"month":11,"date":11,"hours":15,"utc":true}, "type": "temporal"}, "y": {"datum": 46.16, "type": "quantitative"}}
},
{
"mark": {"type": "text", "text": "TradingView", "fontSize": 24, "fontWeight": 600, "color": "#131722", "align": "left", "baseline": "alphabetic"},
"encoding": {"x": {"datum": {"year":2021,"month":11,"date":18,"hours":6,"utc":true}, "type": "temporal"}, "y": {"datum": 46.16, "type": "quantitative"}}
}
]
}
